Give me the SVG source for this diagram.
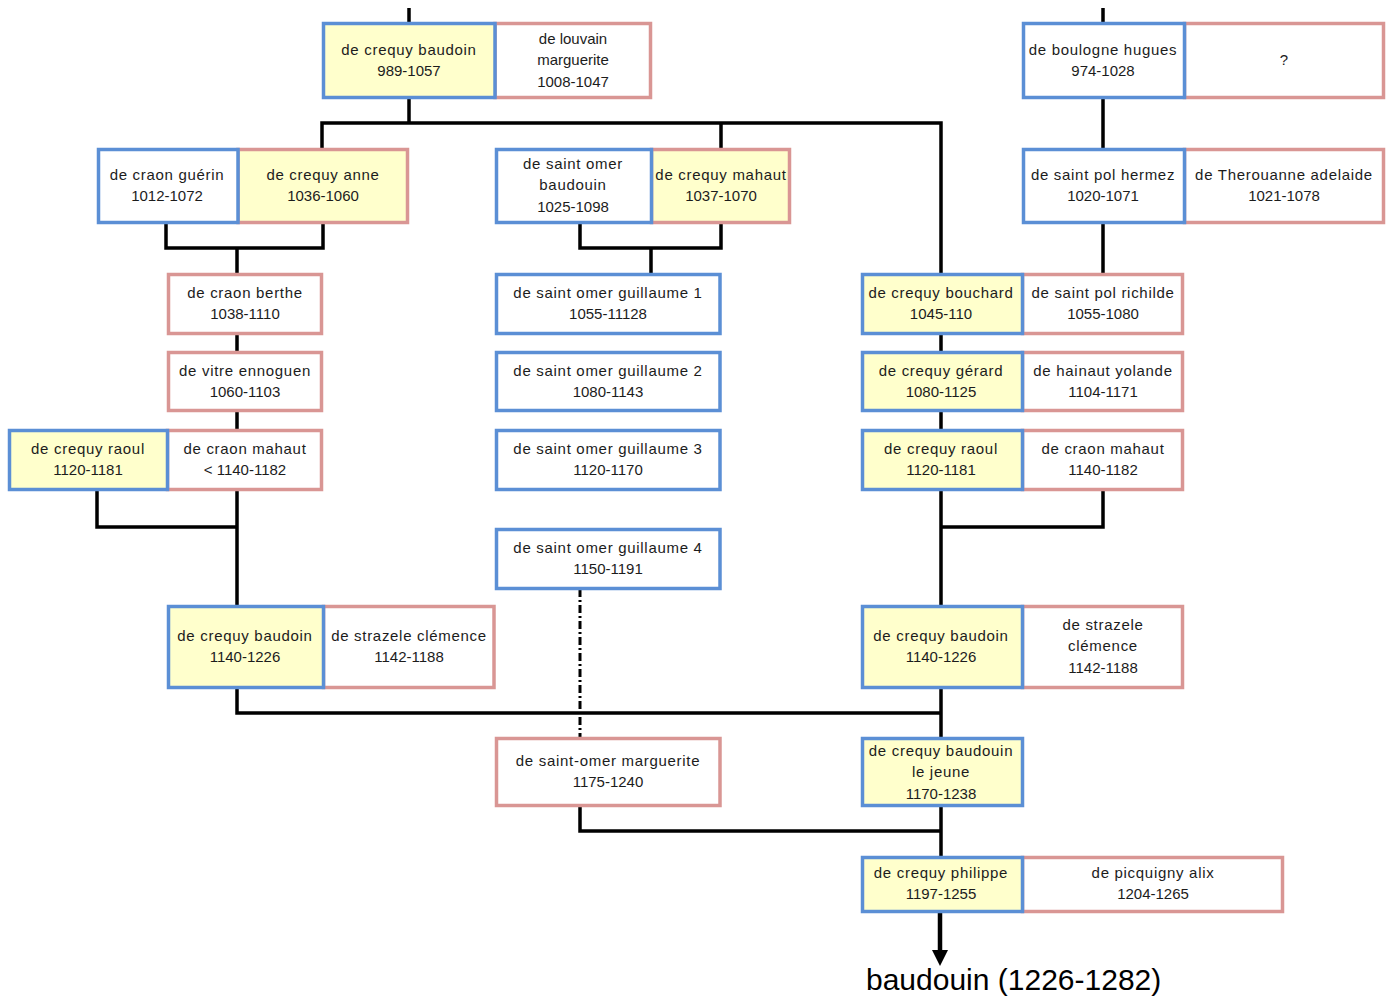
<svg xmlns="http://www.w3.org/2000/svg" width="1395" height="999" viewBox="0 0 1395 999">
<style>
.m{fill:#ffffff;stroke:#5b8fd5;stroke-width:3.5}
.f{fill:#ffffff;stroke:#d99694;stroke-width:3.5}
.y{fill:#ffffcc}
text{font-family:"Liberation Sans",Arial,sans-serif;font-size:15px;fill:#1c1c1c;text-anchor:middle}
.n{letter-spacing:0.7px}
.c{fill:none;stroke:#000;stroke-width:3.5}
.big{font-size:30px;text-anchor:start;fill:#000}
</style>
<rect width="1395" height="999" fill="#ffffff"/>
<g id="connectors">
<path class="c" d="M409 8V23.5M1103 8V23.5"/>
<path class="c" d="M409 97.5V123M322 149.5V123H941V274.5M721 123V149.5"/>
<path class="c" d="M1103 97.5V149.5M1103 222.5V274.5"/>
<path class="c" d="M166 222.5V248H323V222.5M237 248V274.5"/>
<path class="c" d="M580 222.5V248H721V222.5M651 248V274.5"/>
<path class="c" d="M237 333.5V352.5M237 410.5V430.5M941 333.5V352.5M941 410.5V430.5"/>
<path class="c" d="M97 489.5V527H237M237 489.5V606.5"/>
<path class="c" d="M941 489.5V606.5M941 527H1103V489.5"/>
<path class="c" d="M237 687.5V713H941M941 687.5V738.5"/>
<path class="c" d="M580 805.5V831H941M941 805.5V857.5"/>
<path fill="none" stroke="#000" stroke-width="3" stroke-dasharray="8 3 2 3" d="M580 589V737"/>
<path fill="none" stroke="#000" stroke-width="4.5" d="M940 911.5V952"/>
<polygon points="932,950 948,950 940,966" fill="#000"/>
</g>
<g id="n_louvain"><rect class="f" x="495" y="23.5" width="155.5" height="74"/><text x="573" y="44">de louvain</text><text x="573" y="65">marguerite</text><text x="573" y="87">1008-1047</text></g>
<g id="n_crequy_baudoin_989"><rect class="m y" x="323.5" y="23.5" width="171.5" height="74"/><text class="n" x="409" y="55">de crequy baudoin</text><text x="409" y="76">989-1057</text></g>
<g id="n_unknown"><rect class="f" x="1184.5" y="23.5" width="199" height="74"/><text x="1284" y="65">?</text></g>
<g id="n_boulogne"><rect class="m" x="1023.5" y="23.5" width="161" height="74"/><text class="n" x="1103" y="55">de boulogne hugues</text><text x="1103" y="76">974-1028</text></g>

<g id="n_crequy_anne"><rect class="f y" x="238" y="149.5" width="169.5" height="73"/><text class="n" x="323" y="180">de crequy anne</text><text x="323" y="201">1036-1060</text></g>
<g id="n_craon_guerin"><rect class="m" x="98.5" y="149.5" width="139.5" height="73"/><text class="n" x="167" y="180">de craon guérin</text><text x="167" y="201">1012-1072</text></g>
<g id="n_crequy_mahaut"><rect class="f y" x="651.5" y="149.5" width="138" height="73"/><text class="n" x="721" y="180">de crequy mahaut</text><text x="721" y="201">1037-1070</text></g>
<g id="n_saint_omer_baudouin"><rect class="m" x="496.5" y="149.5" width="155" height="73"/><text class="n" x="573" y="169">de saint omer</text><text class="n" x="573" y="190">baudouin</text><text x="573" y="212">1025-1098</text></g>
<g id="n_therouanne"><rect class="f" x="1184.5" y="149.5" width="199" height="73"/><text class="n" x="1284" y="180">de Therouanne adelaide</text><text x="1284" y="201">1021-1078</text></g>
<g id="n_saint_pol_hermez"><rect class="m" x="1023.5" y="149.5" width="161" height="73"/><text class="n" x="1103" y="180">de saint pol hermez</text><text x="1103" y="201">1020-1071</text></g>

<g id="n_craon_berthe"><rect class="f" x="168.5" y="274.5" width="153" height="59"/><text class="n" x="245" y="298">de craon berthe</text><text x="245" y="319">1038-1110</text></g>
<g id="n_guillaume1"><rect class="m" x="496.5" y="274.5" width="223.5" height="59"/><text class="n" x="608" y="298">de saint omer guillaume 1</text><text x="608" y="319">1055-11128</text></g>
<g id="n_richilde"><rect class="f" x="1022.5" y="274.5" width="160" height="59"/><text class="n" x="1103" y="298">de saint pol richilde</text><text x="1103" y="319">1055-1080</text></g>
<g id="n_bouchard"><rect class="m y" x="862.5" y="274.5" width="160" height="59"/><text class="n" x="941" y="298">de crequy bouchard</text><text x="941" y="319">1045-110</text></g>

<g id="n_vitre"><rect class="f" x="168.5" y="352.5" width="153" height="58"/><text class="n" x="245" y="376">de vitre ennoguen</text><text x="245" y="397">1060-1103</text></g>
<g id="n_guillaume2"><rect class="m" x="496.5" y="352.5" width="223.5" height="58"/><text class="n" x="608" y="376">de saint omer guillaume 2</text><text x="608" y="397">1080-1143</text></g>
<g id="n_hainaut"><rect class="f" x="1022.5" y="352.5" width="160" height="58"/><text class="n" x="1103" y="376">de hainaut yolande</text><text x="1103" y="397">1104-1171</text></g>
<g id="n_gerard"><rect class="m y" x="862.5" y="352.5" width="160" height="58"/><text class="n" x="941" y="376">de crequy gérard</text><text x="941" y="397">1080-1125</text></g>

<g id="n_craon_mahaut_l"><rect class="f" x="167.5" y="430.5" width="154" height="59"/><text class="n" x="245" y="454">de craon mahaut</text><text x="245" y="475">&lt; 1140-1182</text></g>
<g id="n_raoul_l"><rect class="m y" x="9.5" y="430.5" width="158" height="59"/><text class="n" x="88" y="454">de crequy raoul</text><text x="88" y="475">1120-1181</text></g>
<g id="n_guillaume3"><rect class="m" x="496.5" y="430.5" width="223.5" height="59"/><text class="n" x="608" y="454">de saint omer guillaume 3</text><text x="608" y="475">1120-1170</text></g>
<g id="n_craon_mahaut_r"><rect class="f" x="1022.5" y="430.5" width="160" height="59"/><text class="n" x="1103" y="454">de craon mahaut</text><text x="1103" y="475">1140-1182</text></g>
<g id="n_raoul_r"><rect class="m y" x="862.5" y="430.5" width="160" height="59"/><text class="n" x="941" y="454">de crequy raoul</text><text x="941" y="475">1120-1181</text></g>

<g id="n_guillaume4"><rect class="m" x="496.5" y="529.5" width="223.5" height="59"/><text class="n" x="608" y="553">de saint omer guillaume 4</text><text x="608" y="574">1150-1191</text></g>

<g id="n_strazele_l"><rect class="f" x="323.5" y="606.5" width="170.5" height="81"/><text class="n" x="409" y="641">de strazele clémence</text><text x="409" y="662">1142-1188</text></g>
<g id="n_baudoin_1140_l"><rect class="m y" x="168.5" y="606.5" width="155" height="81"/><text class="n" x="245" y="641">de crequy baudoin</text><text x="245" y="662">1140-1226</text></g>
<g id="n_strazele_r"><rect class="f" x="1022.5" y="606.5" width="160" height="81"/><text class="n" x="1103" y="630">de strazele</text><text class="n" x="1103" y="651">clémence</text><text x="1103" y="673">1142-1188</text></g>
<g id="n_baudoin_1140_r"><rect class="m y" x="862.5" y="606.5" width="160" height="81"/><text class="n" x="941" y="641">de crequy baudoin</text><text x="941" y="662">1140-1226</text></g>

<g id="n_marguerite"><rect class="f" x="496.5" y="738.5" width="223.5" height="67"/><text class="n" x="608" y="766">de saint-omer marguerite</text><text x="608" y="787">1175-1240</text></g>
<g id="n_le_jeune"><rect class="m y" x="862.5" y="738.5" width="160" height="67"/><text class="n" x="941" y="756">de crequy baudouin</text><text class="n" x="941" y="777">le jeune</text><text x="941" y="799">1170-1238</text></g>

<g id="n_alix"><rect class="f" x="1022.5" y="857.5" width="260" height="54"/><text class="n" x="1153" y="878">de picquigny alix</text><text x="1153" y="899">1204-1265</text></g>
<g id="n_philippe"><rect class="m y" x="862.5" y="857.5" width="160" height="54"/><text class="n" x="941" y="878">de crequy philippe</text><text x="941" y="899">1197-1255</text></g>

<text class="big" x="866" y="990">baudouin (1226-1282)</text>
</svg>
